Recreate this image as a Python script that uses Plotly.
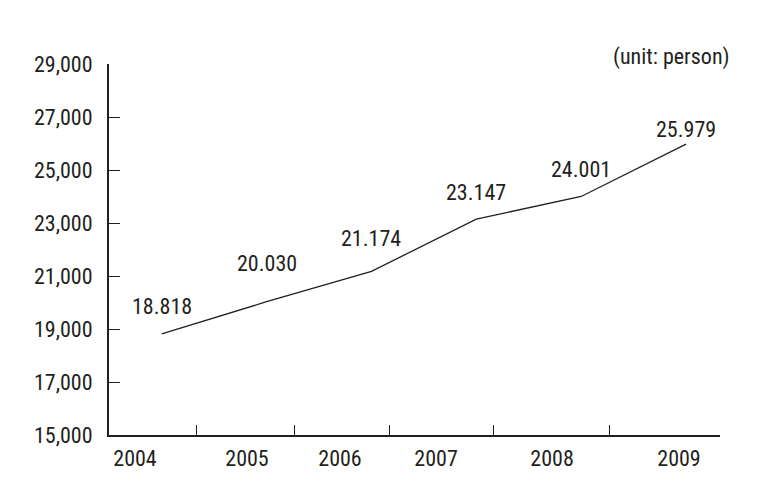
import plotly.graph_objects as go

years = [2004, 2005, 2006, 2007, 2008, 2009]
values = [18818, 20030, 21174, 23147, 24001, 25979]
value_labels = ["18.818", "20.030", "21.174", "23.147", "24.001", "25.979"]
year_labels = ["2004", "2005", "2006", "2007", "2008", "2009"]
y_ticks = [15000, 17000, 19000, 21000, 23000, 25000, 27000, 29000]
y_tick_labels = ["15,000", "17,000", "19,000", "21,000", "23,000", "25,000", "27,000", "29,000"]

# layout helpers (axis geometry, not data)
x_range = [2003.497, 2009.324]
x_boundaries = [2004.334, 2005.265, 2006.171, 2007.162, 2008.268, 2009.324]
x_label_pos = [2003.745, 2004.813, 2005.700, 2006.616, 2007.722, 2008.933]
label_shift = [27, 38, 33, 27, 27, 15]

FONT = "Liberation Sans Narrow, Roboto Condensed, Arial Narrow, sans-serif"
INK = "#231f20"

fig = go.Figure()
fig.add_trace(go.Scatter(
    x=years, y=values, mode="lines",
    line=dict(color=INK, width=1.3),
    hoverinfo="skip", showlegend=False,
))
# invisible trace on xaxis2 so that the label axis is drawn
fig.add_trace(go.Scatter(
    x=years, y=values, mode="markers", marker=dict(opacity=0),
    xaxis="x2", hoverinfo="skip", showlegend=False,
))

for x, y, t, s in zip(years, values, value_labels, label_shift):
    fig.add_annotation(x=x, y=y, text=t, showarrow=False, yshift=s,
                       font=dict(family=FONT, size=22, color=INK))

fig.add_annotation(x=1, xref="paper", xanchor="right", y=1.018, yref="paper",
                   yanchor="middle", text="(unit: person)", showarrow=False,
                   xshift=12,
                   font=dict(family=FONT, size=22, color=INK))

fig.update_layout(
    width=780, height=487,
    margin=dict(l=101, r=68, t=55.5, b=60),
    paper_bgcolor="white", plot_bgcolor="white",
    font=dict(family=FONT, size=22, color=INK),
    xaxis=dict(
        range=x_range, tickvals=x_boundaries, ticktext=[""] * len(x_boundaries),
        ticks="inside", ticklen=10, tickwidth=1.3, tickcolor=INK,
        showline=True, linecolor=INK, linewidth=2,
        showgrid=False, zeroline=False, fixedrange=True,
    ),
    xaxis2=dict(
        overlaying="x", matches="x", side="bottom",
        tickvals=x_label_pos, ticktext=year_labels,
        ticks="", showline=False, showgrid=False, zeroline=False,
        ticklabelstandoff=8,
        tickfont=dict(family=FONT, size=22, color=INK),
    ),
    yaxis=dict(
        range=[15000, 29000], tickvals=y_ticks, ticktext=y_tick_labels,
        ticks="inside", ticklen=11, tickwidth=1.3, tickcolor=INK,
        showline=True, linecolor=INK, linewidth=2,
        showgrid=False, zeroline=False, ticklabelstandoff=10,
        tickfont=dict(family=FONT, size=22, color=INK),
    ),
)

fig.write_html("out.html")
